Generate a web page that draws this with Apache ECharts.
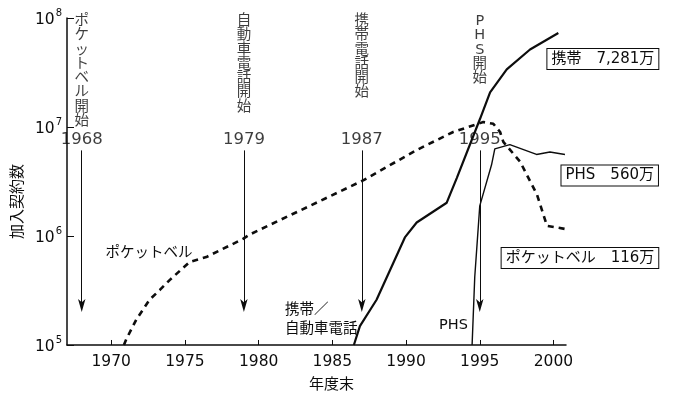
<!DOCTYPE html>
<html>
<head>
<meta charset="utf-8">
<script src="https://cdn.jsdelivr.net/npm/echarts@6/dist/echarts.min.js"></script>
<style>
  html, body { margin: 0; padding: 0; background: #fff; }
  #chart { width: 674px; height: 396px; }
</style>
</head>
<body>
<div id="chart"></div>
<script>
// 移動体通信サービスの加入契約数（年度末、対数目盛）

const yearTicks = [1970, 1975, 1980, 1985, 1990, 1995, 2000];

// ポケットベル
const pagerData = [
  [1970.86, 1.0e5], [1971.02, 1.13e5], [1971.7, 1.71e5], [1972.6, 2.6e5],
  [1973.3, 3.2e5], [1973.96, 3.94e5], [1975.32, 5.78e5], [1976.45, 6.41e5],
  [1978.94, 9.4e5], [1979.39, 1.03e6], [1987.09, 3.24e6], [1990.72, 6.15e6],
  [1993.2, 9.0e6], [1995.24, 1.11e7], [1995.92, 1.07e7], [1996.38, 9.0e6],
  [1996.6, 7.3e6], [1997.74, 4.8e6], [1998.88, 2.4e6], [1999.56, 1.24e6],
  [2000.8, 1.16e6]
];

// 携帯／自動車電話
const cellularData = [
  [1986.46, 1.0e5], [1986.87, 1.49e5], [1988.0, 2.6e5], [1989.92, 9.7e5],
  [1990.72, 1.33e6], [1992.76, 2.02e6], [1992.98, 2.4e6], [1993.44, 3.4e6],
  [1995.02, 1.19e7], [1995.7, 2.08e7], [1996.83, 3.38e7], [1998.41, 5.14e7],
  [2000.33, 7.281e7]
];

// PHS
const phsData = [
  [1994.48, 1.0e5], [1994.66, 4.2e5], [1995.0, 1.89e6], [1995.8, 4.5e6],
  [1996.02, 6.3e6], [1997.04, 6.9e6], [1998.85, 5.6e6], [1999.76, 5.9e6],
  [2000.78, 5.6e6]
];

// サービス開始年
const eventYears = [1968, 1979, 1987, 1995];
const eventNames = ['ポケットベル開始', '自動車電話開始', '携帯電話開始', 'PHS開始'];
const arrowFrom = 6.1e6;
const arrowTo = 2.3e5;

// 最新値の注記
const cellularNote = '携帯　7,281万';
const phsNote = 'PHS　560万';
const pagerNote = 'ポケットベル　116万';

const INK = '#0d0d0d';
const FONT = "'DejaVu Sans', 'Noto Sans CJK JP', sans-serif";
const CJK = "'Noto Sans CJK JP', sans-serif";
// 細身の矢じり（上向き、正方形の外枠に収める）
const ARROW = 'path://M0,0M14,14M7,0L11,14L7,10.5L3,14Z';

function boxLabel(text, dx, dy) {
  return {
    show: true,
    position: 'inside',
    align: 'right',
    verticalAlign: 'middle',
    offset: [dx, dy],
    formatter: text,
    color: INK,
    fontFamily: FONT,
    fontSize: 15,
    lineHeight: 17,
    backgroundColor: '#fff',
    borderColor: INK,
    borderWidth: 1,
    padding: [2, 4, 1, 4]
  };
}

function textMark(coord, text, align, extra) {
  return Object.assign({
    coord: coord,
    symbol: 'circle',
    symbolSize: 0,
    label: {
      show: true,
      position: 'inside',
      align: align,
      verticalAlign: 'middle',
      formatter: text,
      color: INK,
      fontFamily: FONT,
      fontSize: 14.5,
      lineHeight: 18.5
    }
  }, extra || {});
}

const chart = echarts.init(document.getElementById('chart'), null, { renderer: 'canvas' });

chart.setOption({
  animation: false,
  backgroundColor: '#fff',
  textStyle: { fontFamily: FONT, color: INK },
  grid: { left: 67, right: 108, top: 18, bottom: 47 },
  xAxis: {
    type: 'value',
    min: 1967,
    max: 2000.85,
    name: '年度末',
    nameLocation: 'middle',
    nameGap: 31,
    nameTextStyle: { fontFamily: CJK, fontSize: 15, color: INK, padding: [0, 0, 0, 30] },
    axisLine: { show: true, lineStyle: { color: INK, width: 1.5 } },
    axisTick: { show: true, inside: true, length: 5, customValues: yearTicks, lineStyle: { color: INK, width: 1 } },
    axisLabel: {
      customValues: yearTicks,
      formatter: function (v) { return String(v); },
      fontSize: 15.5, color: INK, margin: 9, fontFamily: FONT
    },
    splitLine: { show: false }
  },
  yAxis: {
    type: 'log',
    logBase: 10,
    min: 1e5,
    max: 1e8,
    name: '加入契約数',
    nameLocation: 'middle',
    nameRotate: 90,
    nameGap: 41,
    nameTextStyle: { fontFamily: CJK, fontSize: 15, color: INK, padding: [0, 40, 0, 0] },
    axisLine: { show: true, lineStyle: { color: INK, width: 1.5 } },
    axisTick: { show: true, inside: true, length: 7, lineStyle: { color: INK, width: 1 } },
    axisLabel: {
      margin: 5,
      formatter: function (v) {
        const e = Math.round(Math.log10(v));
        return '{a|10}{s|' + e + '}';
      },
      rich: {
        a: { fontSize: 15.5, fontFamily: FONT, color: INK, lineHeight: 20, verticalAlign: 'bottom' },
        s: { fontSize: 10, fontFamily: FONT, color: INK, lineHeight: 20, verticalAlign: 'top', padding: [0, 0, 9, 1] }
      }
    },
    splitLine: { show: false }
  },
  series: [
    {
      name: 'ポケットベル',
      type: 'line',
      data: pagerData,
      symbol: 'none',
      clip: false,
      lineStyle: { color: INK, width: 2.6, type: [6, 5] },
      markPoint: {
        silent: true,
        data: [
          textMark(pagerData[pagerData.length - 1], pagerNote, 'right', { label: boxLabel(pagerNote, 93, 29) }),
          textMark([1972.56, 6.97e5], 'ポケットベル', 'center')
        ]
      }
    },
    {
      name: '携帯',
      type: 'line',
      data: cellularData,
      symbol: 'none',
      clip: false,
      lineStyle: { color: INK, width: 2.2 },
      markPoint: {
        silent: true,
        data: [
          textMark(cellularData[cellularData.length - 1], cellularNote, 'right', { label: boxLabel(cellularNote, 100, 26) }),
          textMark([1981.79, 1.70e5], '携帯／\n自動車電話', 'left')
        ]
      }
    },
    {
      name: 'PHS',
      type: 'line',
      data: phsData,
      symbol: 'none',
      clip: false,
      lineStyle: { color: INK, width: 1.4 },
      markPoint: {
        silent: true,
        data: [
          textMark(phsData[phsData.length - 1], phsNote, 'right', { label: boxLabel(phsNote, 93, 21) }),
          textMark([1994.2, 1.52e5], 'PHS', 'right')
        ]
      }
    },
    {
      // 開始年の矢印と年
      name: 'start',
      type: 'scatter',
      data: eventYears.map(function (y) { return [y, arrowFrom]; }),
      symbol: 'circle',
      symbolSize: 0,
      silent: true,
      label: {
        show: true,
        position: 'top',
        distance: 2,
        formatter: function (p) { return String(p.value[0]); },
        fontFamily: FONT,
        fontSize: 16.5,
        color: INK
      },
      markLine: {
        silent: true,
        symbol: ['none', ARROW],
        symbolSize: 13,
        label: { show: false },
        lineStyle: { color: INK, width: 1, type: 'solid' },
        itemStyle: { color: INK },
        data: eventYears.map(function (y) {
          return [{ coord: [y, arrowFrom] }, { coord: [y, arrowTo] }];
        })
      }
    },
    {
      // 開始の縦書き注記
      name: 'startName',
      type: 'scatter',
      data: eventYears.map(function (y) { return [y, 1e8]; }),
      symbol: 'circle',
      symbolSize: 0,
      silent: true,
      clip: false,
      label: {
        show: true,
        position: 'bottom',
        distance: -4,
        formatter: function (p) { return eventNames[p.dataIndex].split('').join('\n'); },
        fontFamily: FONT,
        fontSize: 14.5,
        lineHeight: 14.3,
        align: 'center',
        color: INK
      }
    }
  ]
});
</script>
</body>
</html>
